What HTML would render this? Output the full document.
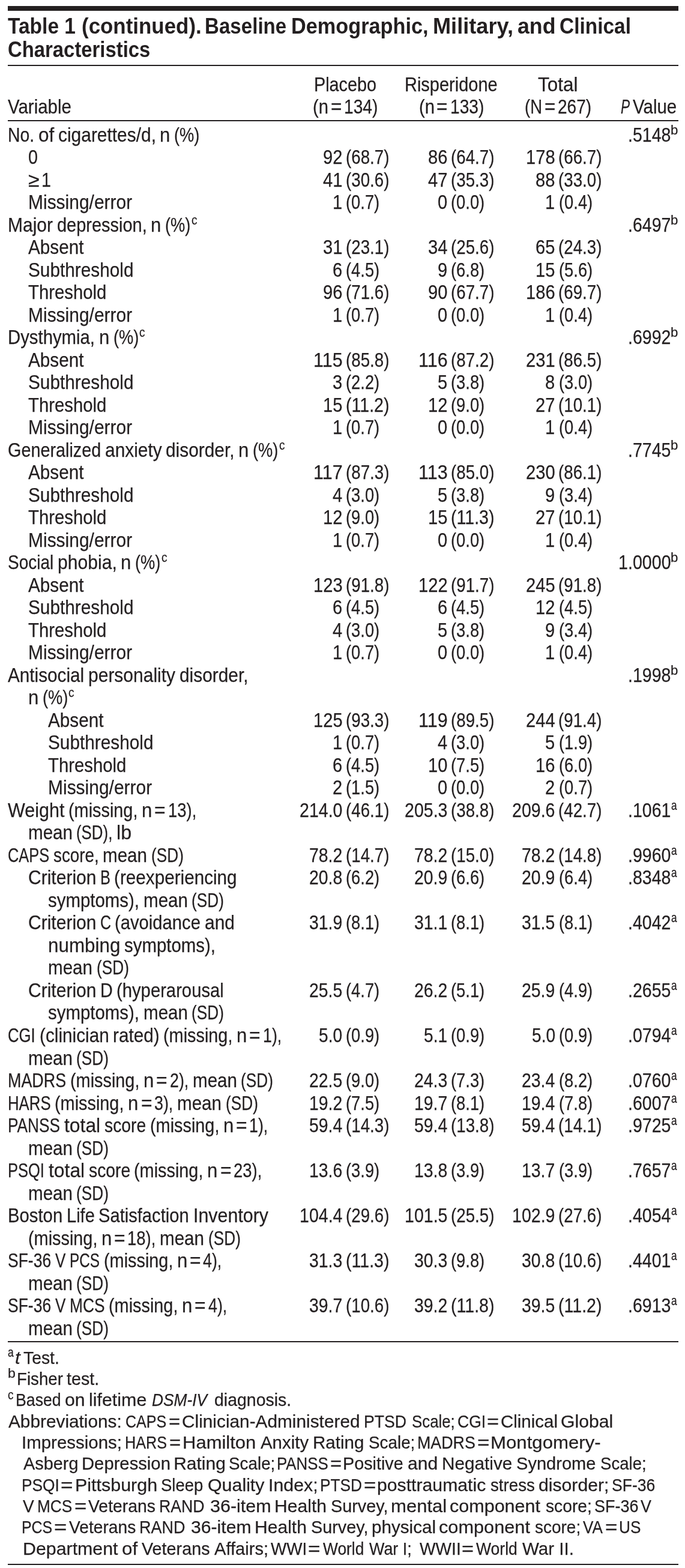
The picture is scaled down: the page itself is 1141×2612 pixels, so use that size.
<!DOCTYPE html><html lang="en"><head><meta charset="utf-8"><title>Table 1 (continued)</title><style>
html,body{margin:0;padding:0;background:#fff;}
#page{position:relative;width:1141px;height:2612px;overflow:hidden;background:#fff;color:#231f20;font-family:"Liberation Sans",sans-serif;}
#page span,#page sup,#page i,#page b{position:absolute;font-style:normal;font-weight:normal;vertical-align:baseline;white-space:pre;line-height:1;transform-origin:0 50%;-webkit-text-stroke:0.25px #231f20;}
#page b{font-weight:bold;-webkit-text-stroke:0;} #page i{font-style:italic;}
#page .rule{position:absolute;left:13.1px;width:1116.7px;background:#231f20;}
</style></head><body><div id="page"><div class="rule" style="top:9.9px;height:8.0px"></div><div class="rule" style="top:107.7px;height:2.2px"></div><div class="rule" style="top:200.3px;height:2.2px"></div><div class="rule" style="top:2233.9px;height:2.2px"></div><div class="rule" style="top:2604.9px;height:2.2px"></div><div><b style="left:12.82px;top:26px;font-size:36.5px;transform:scaleX(0.9182)">Table 1</b> <b style="left:135.56px;top:26px;font-size:36.5px;transform:scaleX(0.9565)">(continued).</b> <b style="left:341.38px;top:26px;font-size:36.5px;transform:scaleX(0.9075)">Baseline</b> <b style="left:485.41px;top:26px;font-size:36.5px;transform:scaleX(0.9392)">Demographic,</b> <b style="left:721.38px;top:26px;font-size:36.5px;transform:scaleX(0.9905)">Military,</b> <b style="left:861.65px;top:26px;font-size:36.5px;transform:scaleX(0.9783)">and</b> <b style="left:932.03px;top:26px;font-size:36.5px;transform:scaleX(0.9161)">Clinical</b> <b style="left:12.85px;top:65px;font-size:36.5px;transform:scaleX(0.9000)">Characteristics</b> </div><div><span style="left:12.87px;top:161px;font-size:33px;transform:scaleX(0.8929)">Variable</span> </div><div><span style="left:522.84px;top:124px;font-size:33px;transform:scaleX(0.8726)">Placebo</span> <span style="left:521.22px;top:161px;font-size:33px;transform:scaleX(0.8840)">(n</span> <span style="left:551.02px;top:161px;font-size:33px;transform:scaleX(0.9557)">=</span> <span style="left:573.32px;top:161px;font-size:33px;transform:scaleX(0.8532)">134)</span> </div><div><span style="left:674.42px;top:124px;font-size:33px;transform:scaleX(0.8782)">Risperidone</span> <span style="left:697.52px;top:161px;font-size:33px;transform:scaleX(0.8849)">(n</span> <span style="left:727.35px;top:161px;font-size:33px;transform:scaleX(0.9566)">=</span> <span style="left:749.66px;top:161px;font-size:33px;transform:scaleX(0.8540)">133)</span> </div><div><span style="left:896.29px;top:124px;font-size:33px;transform:scaleX(0.9525)">Total</span> <span style="left:873.72px;top:161px;font-size:33px;transform:scaleX(0.8341)">(N</span> <span style="left:906.63px;top:161px;font-size:33px;transform:scaleX(0.9533)">=</span> <span style="left:928.86px;top:161px;font-size:33px;transform:scaleX(0.8510)">267)</span> </div><div><i style="left:1033.50px;top:161px;font-size:33px;transform:scaleX(0.6878)">P</i> <span style="left:1053.87px;top:161px;font-size:33px;transform:scaleX(0.8937)">Value</span> </div><div><span style="left:13.20px;top:208px;font-size:33px;transform:scaleX(0.8590)">No.</span> <span style="left:63.93px;top:208px;font-size:33px;transform:scaleX(0.9531)">of</span> <span style="left:96.78px;top:208px;font-size:33px;transform:scaleX(0.9067)">cigarettes/d,</span> <span style="left:266.39px;top:208px;font-size:33px;transform:scaleX(0.9432)">n</span> <span style="left:290.32px;top:208px;font-size:33px;transform:scaleX(0.8267)">(%)</span> <span style="left:1046.40px;top:208px;font-size:33px;transform:scaleX(0.8657)">.5148</span><sup style="left:1117.47px;top:206px;font-size:22px;transform:scaleX(1.0093)">b</sup> </div><div><span style="left:46.60px;top:245px;font-size:33px;transform:scaleX(0.8718)">0</span> <span style="left:538.00px;top:245px;font-size:33px;transform:scaleX(0.8824)">92</span> <span style="left:576.28px;top:245px;font-size:33px;transform:scaleX(0.8402)">(68.7)</span> <span style="left:712.90px;top:245px;font-size:33px;transform:scaleX(0.8824)">86</span> <span style="left:751.18px;top:245px;font-size:33px;transform:scaleX(0.8402)">(64.7)</span> <span style="left:876.00px;top:245px;font-size:33px;transform:scaleX(0.8826)">178</span> <span style="left:930.48px;top:245px;font-size:33px;transform:scaleX(0.8402)">(66.7)</span> </div><div><span style="left:46.60px;top:283px;font-size:33px;transform:scaleX(1.0259)">≥</span> <span style="left:69.10px;top:283px;font-size:33px;transform:scaleX(0.8718)">1</span> <span style="left:538.00px;top:283px;font-size:33px;transform:scaleX(0.8824)">41</span> <span style="left:576.28px;top:283px;font-size:33px;transform:scaleX(0.8402)">(30.6)</span> <span style="left:712.90px;top:283px;font-size:33px;transform:scaleX(0.8824)">47</span> <span style="left:751.18px;top:283px;font-size:33px;transform:scaleX(0.8402)">(35.3)</span> <span style="left:892.20px;top:283px;font-size:33px;transform:scaleX(0.8824)">88</span> <span style="left:930.48px;top:283px;font-size:33px;transform:scaleX(0.8402)">(33.0)</span> </div><div><span style="left:46.60px;top:320px;font-size:33px;transform:scaleX(0.9083)">Missing/error</span> <span style="left:554.20px;top:320px;font-size:33px;transform:scaleX(0.8824)">1</span> <span style="left:576.31px;top:320px;font-size:33px;transform:scaleX(0.8280)">(0.7)</span> <span style="left:729.10px;top:320px;font-size:33px;transform:scaleX(0.8824)">0</span> <span style="left:751.21px;top:320px;font-size:33px;transform:scaleX(0.8280)">(0.0)</span> <span style="left:908.40px;top:320px;font-size:33px;transform:scaleX(0.8824)">1</span> <span style="left:930.51px;top:320px;font-size:33px;transform:scaleX(0.8280)">(0.4)</span> </div><div><span style="left:13.20px;top:358px;font-size:33px;transform:scaleX(0.9092)">Major</span> <span style="left:94.85px;top:358px;font-size:33px;transform:scaleX(0.8776)">depression,</span> <span style="left:251.19px;top:358px;font-size:33px;transform:scaleX(0.9432)">n</span> <span style="left:275.12px;top:358px;font-size:33px;transform:scaleX(0.8267)">(%)</span><sup style="left:318.65px;top:356px;font-size:22px;transform:scaleX(0.8645)">c</sup> <span style="left:1046.40px;top:358px;font-size:33px;transform:scaleX(0.8657)">.6497</span><sup style="left:1117.47px;top:356px;font-size:22px;transform:scaleX(1.0093)">b</sup> </div><div><span style="left:46.60px;top:395px;font-size:33px;transform:scaleX(0.9000)">Absent</span> <span style="left:538.00px;top:395px;font-size:33px;transform:scaleX(0.8824)">31</span> <span style="left:576.28px;top:395px;font-size:33px;transform:scaleX(0.8402)">(23.1)</span> <span style="left:712.90px;top:395px;font-size:33px;transform:scaleX(0.8824)">34</span> <span style="left:751.18px;top:395px;font-size:33px;transform:scaleX(0.8402)">(25.6)</span> <span style="left:892.20px;top:395px;font-size:33px;transform:scaleX(0.8824)">65</span> <span style="left:930.48px;top:395px;font-size:33px;transform:scaleX(0.8402)">(24.3)</span> </div><div><span style="left:46.60px;top:433px;font-size:33px;transform:scaleX(0.9027)">Subthreshold</span> <span style="left:554.20px;top:433px;font-size:33px;transform:scaleX(0.8824)">6</span> <span style="left:576.31px;top:433px;font-size:33px;transform:scaleX(0.8280)">(4.5)</span> <span style="left:729.10px;top:433px;font-size:33px;transform:scaleX(0.8824)">9</span> <span style="left:751.21px;top:433px;font-size:33px;transform:scaleX(0.8280)">(6.8)</span> <span style="left:892.20px;top:433px;font-size:33px;transform:scaleX(0.8824)">15</span> <span style="left:930.51px;top:433px;font-size:33px;transform:scaleX(0.8280)">(5.6)</span> </div><div><span style="left:46.60px;top:470px;font-size:33px;transform:scaleX(0.8887)">Threshold</span> <span style="left:538.00px;top:470px;font-size:33px;transform:scaleX(0.8824)">96</span> <span style="left:576.28px;top:470px;font-size:33px;transform:scaleX(0.8402)">(71.6)</span> <span style="left:712.90px;top:470px;font-size:33px;transform:scaleX(0.8824)">90</span> <span style="left:751.18px;top:470px;font-size:33px;transform:scaleX(0.8402)">(67.7)</span> <span style="left:876.00px;top:470px;font-size:33px;transform:scaleX(0.8826)">186</span> <span style="left:930.48px;top:470px;font-size:33px;transform:scaleX(0.8402)">(69.7)</span> </div><div><span style="left:46.60px;top:508px;font-size:33px;transform:scaleX(0.9083)">Missing/error</span> <span style="left:554.20px;top:508px;font-size:33px;transform:scaleX(0.8824)">1</span> <span style="left:576.31px;top:508px;font-size:33px;transform:scaleX(0.8280)">(0.7)</span> <span style="left:729.10px;top:508px;font-size:33px;transform:scaleX(0.8824)">0</span> <span style="left:751.21px;top:508px;font-size:33px;transform:scaleX(0.8280)">(0.0)</span> <span style="left:908.40px;top:508px;font-size:33px;transform:scaleX(0.8824)">1</span> <span style="left:930.51px;top:508px;font-size:33px;transform:scaleX(0.8280)">(0.4)</span> </div><div><span style="left:13.20px;top:545px;font-size:33px;transform:scaleX(0.8884)">Dysthymia,</span> <span style="left:164.80px;top:545px;font-size:33px;transform:scaleX(0.9432)">n</span> <span style="left:188.73px;top:545px;font-size:33px;transform:scaleX(0.8267)">(%)</span><sup style="left:232.26px;top:543px;font-size:22px;transform:scaleX(0.8645)">c</sup> <span style="left:1046.40px;top:545px;font-size:33px;transform:scaleX(0.8657)">.6992</span><sup style="left:1117.47px;top:543px;font-size:22px;transform:scaleX(1.0093)">b</sup> </div><div><span style="left:46.60px;top:583px;font-size:33px;transform:scaleX(0.9000)">Absent</span> <span style="left:521.80px;top:583px;font-size:33px;transform:scaleX(0.9235)">115</span> <span style="left:576.28px;top:583px;font-size:33px;transform:scaleX(0.8402)">(85.8)</span> <span style="left:696.70px;top:583px;font-size:33px;transform:scaleX(0.9235)">116</span> <span style="left:751.18px;top:583px;font-size:33px;transform:scaleX(0.8402)">(87.2)</span> <span style="left:876.00px;top:583px;font-size:33px;transform:scaleX(0.8826)">231</span> <span style="left:930.48px;top:583px;font-size:33px;transform:scaleX(0.8402)">(86.5)</span> </div><div><span style="left:46.60px;top:620px;font-size:33px;transform:scaleX(0.9027)">Subthreshold</span> <span style="left:554.20px;top:620px;font-size:33px;transform:scaleX(0.8824)">3</span> <span style="left:576.31px;top:620px;font-size:33px;transform:scaleX(0.8280)">(2.2)</span> <span style="left:729.10px;top:620px;font-size:33px;transform:scaleX(0.8824)">5</span> <span style="left:751.21px;top:620px;font-size:33px;transform:scaleX(0.8280)">(3.8)</span> <span style="left:908.40px;top:620px;font-size:33px;transform:scaleX(0.8824)">8</span> <span style="left:930.51px;top:620px;font-size:33px;transform:scaleX(0.8280)">(3.0)</span> </div><div><span style="left:46.60px;top:658px;font-size:33px;transform:scaleX(0.8887)">Threshold</span> <span style="left:538.00px;top:658px;font-size:33px;transform:scaleX(0.8824)">15</span> <span style="left:576.23px;top:658px;font-size:33px;transform:scaleX(0.8660)">(11.2)</span> <span style="left:712.90px;top:658px;font-size:33px;transform:scaleX(0.8824)">12</span> <span style="left:751.21px;top:658px;font-size:33px;transform:scaleX(0.8280)">(9.0)</span> <span style="left:892.20px;top:658px;font-size:33px;transform:scaleX(0.8824)">27</span> <span style="left:930.48px;top:658px;font-size:33px;transform:scaleX(0.8402)">(10.1)</span> </div><div><span style="left:46.60px;top:695px;font-size:33px;transform:scaleX(0.9083)">Missing/error</span> <span style="left:554.20px;top:695px;font-size:33px;transform:scaleX(0.8824)">1</span> <span style="left:576.31px;top:695px;font-size:33px;transform:scaleX(0.8280)">(0.7)</span> <span style="left:729.10px;top:695px;font-size:33px;transform:scaleX(0.8824)">0</span> <span style="left:751.21px;top:695px;font-size:33px;transform:scaleX(0.8280)">(0.0)</span> <span style="left:908.40px;top:695px;font-size:33px;transform:scaleX(0.8824)">1</span> <span style="left:930.51px;top:695px;font-size:33px;transform:scaleX(0.8280)">(0.4)</span> </div><div><span style="left:13.20px;top:733px;font-size:33px;transform:scaleX(0.8723)">Generalized</span> <span style="left:175.03px;top:733px;font-size:33px;transform:scaleX(0.9062)">anxiety</span> <span style="left:276.40px;top:733px;font-size:33px;transform:scaleX(0.9044)">disorder,</span> <span style="left:397.49px;top:733px;font-size:33px;transform:scaleX(0.9432)">n</span> <span style="left:421.42px;top:733px;font-size:33px;transform:scaleX(0.8267)">(%)</span><sup style="left:464.94px;top:731px;font-size:22px;transform:scaleX(0.8645)">c</sup> <span style="left:1046.40px;top:733px;font-size:33px;transform:scaleX(0.8657)">.7745</span><sup style="left:1117.47px;top:731px;font-size:22px;transform:scaleX(1.0093)">b</sup> </div><div><span style="left:46.60px;top:770px;font-size:33px;transform:scaleX(0.9000)">Absent</span> <span style="left:521.80px;top:770px;font-size:33px;transform:scaleX(0.9235)">117</span> <span style="left:576.28px;top:770px;font-size:33px;transform:scaleX(0.8402)">(87.3)</span> <span style="left:696.70px;top:770px;font-size:33px;transform:scaleX(0.9235)">113</span> <span style="left:751.18px;top:770px;font-size:33px;transform:scaleX(0.8402)">(85.0)</span> <span style="left:876.00px;top:770px;font-size:33px;transform:scaleX(0.8826)">230</span> <span style="left:930.48px;top:770px;font-size:33px;transform:scaleX(0.8402)">(86.1)</span> </div><div><span style="left:46.60px;top:808px;font-size:33px;transform:scaleX(0.9027)">Subthreshold</span> <span style="left:554.20px;top:808px;font-size:33px;transform:scaleX(0.8824)">4</span> <span style="left:576.31px;top:808px;font-size:33px;transform:scaleX(0.8280)">(3.0)</span> <span style="left:729.10px;top:808px;font-size:33px;transform:scaleX(0.8824)">5</span> <span style="left:751.21px;top:808px;font-size:33px;transform:scaleX(0.8280)">(3.8)</span> <span style="left:908.40px;top:808px;font-size:33px;transform:scaleX(0.8824)">9</span> <span style="left:930.51px;top:808px;font-size:33px;transform:scaleX(0.8280)">(3.4)</span> </div><div><span style="left:46.60px;top:845px;font-size:33px;transform:scaleX(0.8887)">Threshold</span> <span style="left:538.00px;top:845px;font-size:33px;transform:scaleX(0.8824)">12</span> <span style="left:576.31px;top:845px;font-size:33px;transform:scaleX(0.8280)">(9.0)</span> <span style="left:712.90px;top:845px;font-size:33px;transform:scaleX(0.8824)">15</span> <span style="left:751.13px;top:845px;font-size:33px;transform:scaleX(0.8660)">(11.3)</span> <span style="left:892.20px;top:845px;font-size:33px;transform:scaleX(0.8824)">27</span> <span style="left:930.48px;top:845px;font-size:33px;transform:scaleX(0.8402)">(10.1)</span> </div><div><span style="left:46.60px;top:883px;font-size:33px;transform:scaleX(0.9083)">Missing/error</span> <span style="left:554.20px;top:883px;font-size:33px;transform:scaleX(0.8824)">1</span> <span style="left:576.31px;top:883px;font-size:33px;transform:scaleX(0.8280)">(0.7)</span> <span style="left:729.10px;top:883px;font-size:33px;transform:scaleX(0.8824)">0</span> <span style="left:751.21px;top:883px;font-size:33px;transform:scaleX(0.8280)">(0.0)</span> <span style="left:908.40px;top:883px;font-size:33px;transform:scaleX(0.8824)">1</span> <span style="left:930.51px;top:883px;font-size:33px;transform:scaleX(0.8280)">(0.4)</span> </div><div><span style="left:13.20px;top:920px;font-size:33px;transform:scaleX(0.8476)">Social</span> <span style="left:96.00px;top:920px;font-size:33px;transform:scaleX(0.9121)">phobia,</span> <span style="left:201.37px;top:920px;font-size:33px;transform:scaleX(0.9432)">n</span> <span style="left:225.30px;top:920px;font-size:33px;transform:scaleX(0.8267)">(%)</span><sup style="left:268.82px;top:918px;font-size:22px;transform:scaleX(0.8645)">c</sup> <span style="left:1030.20px;top:920px;font-size:33px;transform:scaleX(0.8689)">1.0000</span><sup style="left:1117.47px;top:918px;font-size:22px;transform:scaleX(1.0093)">b</sup> </div><div><span style="left:46.60px;top:958px;font-size:33px;transform:scaleX(0.9000)">Absent</span> <span style="left:521.80px;top:958px;font-size:33px;transform:scaleX(0.8826)">123</span> <span style="left:576.28px;top:958px;font-size:33px;transform:scaleX(0.8402)">(91.8)</span> <span style="left:696.70px;top:958px;font-size:33px;transform:scaleX(0.8826)">122</span> <span style="left:751.18px;top:958px;font-size:33px;transform:scaleX(0.8402)">(91.7)</span> <span style="left:876.00px;top:958px;font-size:33px;transform:scaleX(0.8826)">245</span> <span style="left:930.48px;top:958px;font-size:33px;transform:scaleX(0.8402)">(91.8)</span> </div><div><span style="left:46.60px;top:995px;font-size:33px;transform:scaleX(0.9027)">Subthreshold</span> <span style="left:554.20px;top:995px;font-size:33px;transform:scaleX(0.8824)">6</span> <span style="left:576.31px;top:995px;font-size:33px;transform:scaleX(0.8280)">(4.5)</span> <span style="left:729.10px;top:995px;font-size:33px;transform:scaleX(0.8824)">6</span> <span style="left:751.21px;top:995px;font-size:33px;transform:scaleX(0.8280)">(4.5)</span> <span style="left:892.20px;top:995px;font-size:33px;transform:scaleX(0.8824)">12</span> <span style="left:930.51px;top:995px;font-size:33px;transform:scaleX(0.8280)">(4.5)</span> </div><div><span style="left:46.60px;top:1033px;font-size:33px;transform:scaleX(0.8887)">Threshold</span> <span style="left:554.20px;top:1033px;font-size:33px;transform:scaleX(0.8824)">4</span> <span style="left:576.31px;top:1033px;font-size:33px;transform:scaleX(0.8280)">(3.0)</span> <span style="left:729.10px;top:1033px;font-size:33px;transform:scaleX(0.8824)">5</span> <span style="left:751.21px;top:1033px;font-size:33px;transform:scaleX(0.8280)">(3.8)</span> <span style="left:908.40px;top:1033px;font-size:33px;transform:scaleX(0.8824)">9</span> <span style="left:930.51px;top:1033px;font-size:33px;transform:scaleX(0.8280)">(3.4)</span> </div><div><span style="left:46.60px;top:1070px;font-size:33px;transform:scaleX(0.9083)">Missing/error</span> <span style="left:554.20px;top:1070px;font-size:33px;transform:scaleX(0.8824)">1</span> <span style="left:576.31px;top:1070px;font-size:33px;transform:scaleX(0.8280)">(0.7)</span> <span style="left:729.10px;top:1070px;font-size:33px;transform:scaleX(0.8824)">0</span> <span style="left:751.21px;top:1070px;font-size:33px;transform:scaleX(0.8280)">(0.0)</span> <span style="left:908.40px;top:1070px;font-size:33px;transform:scaleX(0.8824)">1</span> <span style="left:930.51px;top:1070px;font-size:33px;transform:scaleX(0.8280)">(0.4)</span> </div><div><span style="left:13.20px;top:1108px;font-size:33px;transform:scaleX(0.9006)">Antisocial</span> <span style="left:147.02px;top:1108px;font-size:33px;transform:scaleX(0.9093)">personality</span> <span style="left:298.74px;top:1108px;font-size:33px;transform:scaleX(0.9044)">disorder,</span> </div><div><span style="left:46.60px;top:1145px;font-size:33px;transform:scaleX(0.9432)">n</span> <span style="left:70.53px;top:1145px;font-size:33px;transform:scaleX(0.8267)">(%)</span><sup style="left:114.05px;top:1143px;font-size:22px;transform:scaleX(0.8645)">c</sup> </div><div><span style="left:1046.40px;top:1108px;font-size:33px;transform:scaleX(0.8657)">.1998</span><sup style="left:1117.47px;top:1106px;font-size:22px;transform:scaleX(1.0093)">b</sup> </div><div><span style="left:80.00px;top:1183px;font-size:33px;transform:scaleX(0.9000)">Absent</span> <span style="left:521.80px;top:1183px;font-size:33px;transform:scaleX(0.8826)">125</span> <span style="left:576.28px;top:1183px;font-size:33px;transform:scaleX(0.8402)">(93.3)</span> <span style="left:696.70px;top:1183px;font-size:33px;transform:scaleX(0.9235)">119</span> <span style="left:751.18px;top:1183px;font-size:33px;transform:scaleX(0.8402)">(89.5)</span> <span style="left:876.00px;top:1183px;font-size:33px;transform:scaleX(0.8826)">244</span> <span style="left:930.48px;top:1183px;font-size:33px;transform:scaleX(0.8402)">(91.4)</span> </div><div><span style="left:80.00px;top:1220px;font-size:33px;transform:scaleX(0.9027)">Subthreshold</span> <span style="left:554.20px;top:1220px;font-size:33px;transform:scaleX(0.8824)">1</span> <span style="left:576.31px;top:1220px;font-size:33px;transform:scaleX(0.8280)">(0.7)</span> <span style="left:729.10px;top:1220px;font-size:33px;transform:scaleX(0.8824)">4</span> <span style="left:751.21px;top:1220px;font-size:33px;transform:scaleX(0.8280)">(3.0)</span> <span style="left:908.40px;top:1220px;font-size:33px;transform:scaleX(0.8824)">5</span> <span style="left:930.51px;top:1220px;font-size:33px;transform:scaleX(0.8280)">(1.9)</span> </div><div><span style="left:80.00px;top:1258px;font-size:33px;transform:scaleX(0.8887)">Threshold</span> <span style="left:554.20px;top:1258px;font-size:33px;transform:scaleX(0.8824)">6</span> <span style="left:576.31px;top:1258px;font-size:33px;transform:scaleX(0.8280)">(4.5)</span> <span style="left:712.90px;top:1258px;font-size:33px;transform:scaleX(0.8824)">10</span> <span style="left:751.21px;top:1258px;font-size:33px;transform:scaleX(0.8280)">(7.5)</span> <span style="left:892.20px;top:1258px;font-size:33px;transform:scaleX(0.8824)">16</span> <span style="left:930.51px;top:1258px;font-size:33px;transform:scaleX(0.8280)">(6.0)</span> </div><div><span style="left:80.00px;top:1295px;font-size:33px;transform:scaleX(0.9083)">Missing/error</span> <span style="left:554.20px;top:1295px;font-size:33px;transform:scaleX(0.8824)">2</span> <span style="left:576.31px;top:1295px;font-size:33px;transform:scaleX(0.8280)">(1.5)</span> <span style="left:729.10px;top:1295px;font-size:33px;transform:scaleX(0.8824)">0</span> <span style="left:751.21px;top:1295px;font-size:33px;transform:scaleX(0.8280)">(0.0)</span> <span style="left:908.40px;top:1295px;font-size:33px;transform:scaleX(0.8824)">2</span> <span style="left:930.51px;top:1295px;font-size:33px;transform:scaleX(0.8280)">(0.7)</span> </div><div><span style="left:13.20px;top:1333px;font-size:33px;transform:scaleX(0.9245)">Weight</span> <span style="left:114.23px;top:1333px;font-size:33px;transform:scaleX(0.8741)">(missing,</span> <span style="left:236.25px;top:1333px;font-size:33px;transform:scaleX(0.9432)">n</span> <span style="left:257.46px;top:1333px;font-size:33px;transform:scaleX(0.9644)">=</span> <span style="left:279.96px;top:1333px;font-size:33px;transform:scaleX(0.8322)">13),</span> <span style="left:46.60px;top:1370px;font-size:33px;transform:scaleX(0.8964)">mean</span> <span style="left:127.22px;top:1370px;font-size:33px;transform:scaleX(0.7836)">(SD),</span> <span style="left:194.18px;top:1370px;font-size:33px;transform:scaleX(0.9778)">lb</span> <span style="left:498.90px;top:1333px;font-size:33px;transform:scaleX(0.8657)">214.0</span> <span style="left:576.28px;top:1333px;font-size:33px;transform:scaleX(0.8402)">(46.1)</span> <span style="left:673.80px;top:1333px;font-size:33px;transform:scaleX(0.8657)">205.3</span> <span style="left:751.18px;top:1333px;font-size:33px;transform:scaleX(0.8402)">(38.8)</span> <span style="left:853.10px;top:1333px;font-size:33px;transform:scaleX(0.8657)">209.6</span> <span style="left:930.48px;top:1333px;font-size:33px;transform:scaleX(0.8402)">(42.7)</span> <span style="left:1046.40px;top:1333px;font-size:33px;transform:scaleX(0.8657)">.1061</span><sup style="left:1118.17px;top:1331px;font-size:22px;transform:scaleX(0.7777)">a</sup> </div><div><span style="left:13.20px;top:1408px;font-size:33px;transform:scaleX(0.7696)">CAPS</span> <span style="left:88.98px;top:1408px;font-size:33px;transform:scaleX(0.8429)">score,</span> <span style="left:171.35px;top:1408px;font-size:33px;transform:scaleX(0.8964)">mean</span> <span style="left:251.97px;top:1408px;font-size:33px;transform:scaleX(0.7944)">(SD)</span> <span style="left:515.10px;top:1408px;font-size:33px;transform:scaleX(0.8609)">78.2</span> <span style="left:576.28px;top:1408px;font-size:33px;transform:scaleX(0.8402)">(14.7)</span> <span style="left:690.00px;top:1408px;font-size:33px;transform:scaleX(0.8609)">78.2</span> <span style="left:751.18px;top:1408px;font-size:33px;transform:scaleX(0.8402)">(15.0)</span> <span style="left:869.30px;top:1408px;font-size:33px;transform:scaleX(0.8609)">78.2</span> <span style="left:930.48px;top:1408px;font-size:33px;transform:scaleX(0.8402)">(14.8)</span> <span style="left:1046.40px;top:1408px;font-size:33px;transform:scaleX(0.8657)">.9960</span><sup style="left:1118.17px;top:1406px;font-size:22px;transform:scaleX(0.7777)">a</sup> </div><div><span style="left:46.60px;top:1445px;font-size:33px;transform:scaleX(0.9102)">Criterion</span> <span style="left:166.72px;top:1445px;font-size:33px;transform:scaleX(0.7681)">B</span> <span style="left:190.24px;top:1445px;font-size:33px;transform:scaleX(0.8996)">(reexperiencing</span> <span style="left:80.00px;top:1483px;font-size:33px;transform:scaleX(0.8913)">symptoms),</span> <span style="left:238.59px;top:1483px;font-size:33px;transform:scaleX(0.8964)">mean</span> <span style="left:319.21px;top:1483px;font-size:33px;transform:scaleX(0.7944)">(SD)</span> <span style="left:515.10px;top:1445px;font-size:33px;transform:scaleX(0.8609)">20.8</span> <span style="left:576.31px;top:1445px;font-size:33px;transform:scaleX(0.8280)">(6.2)</span> <span style="left:690.00px;top:1445px;font-size:33px;transform:scaleX(0.8609)">20.9</span> <span style="left:751.21px;top:1445px;font-size:33px;transform:scaleX(0.8280)">(6.6)</span> <span style="left:869.30px;top:1445px;font-size:33px;transform:scaleX(0.8609)">20.9</span> <span style="left:930.51px;top:1445px;font-size:33px;transform:scaleX(0.8280)">(6.4)</span> <span style="left:1046.40px;top:1445px;font-size:33px;transform:scaleX(0.8657)">.8348</span><sup style="left:1118.17px;top:1443px;font-size:22px;transform:scaleX(0.7777)">a</sup> </div><div><span style="left:46.60px;top:1520px;font-size:33px;transform:scaleX(0.9102)">Criterion</span> <span style="left:166.72px;top:1520px;font-size:33px;transform:scaleX(0.7589)">C</span> <span style="left:191.43px;top:1520px;font-size:33px;transform:scaleX(0.8851)">(avoidance</span> <span style="left:340.94px;top:1520px;font-size:33px;transform:scaleX(0.9072)">and</span> <span style="left:80.00px;top:1558px;font-size:33px;transform:scaleX(0.9506)">numbing</span> <span style="left:206.95px;top:1558px;font-size:33px;transform:scaleX(0.8913)">symptoms),</span> <span style="left:80.00px;top:1595px;font-size:33px;transform:scaleX(0.8964)">mean</span> <span style="left:160.62px;top:1595px;font-size:33px;transform:scaleX(0.7944)">(SD)</span> <span style="left:515.10px;top:1520px;font-size:33px;transform:scaleX(0.8609)">31.9</span> <span style="left:576.31px;top:1520px;font-size:33px;transform:scaleX(0.8280)">(8.1)</span> <span style="left:690.00px;top:1520px;font-size:33px;transform:scaleX(0.8609)">31.1</span> <span style="left:751.21px;top:1520px;font-size:33px;transform:scaleX(0.8280)">(8.1)</span> <span style="left:869.30px;top:1520px;font-size:33px;transform:scaleX(0.8609)">31.5</span> <span style="left:930.51px;top:1520px;font-size:33px;transform:scaleX(0.8280)">(8.1)</span> <span style="left:1046.40px;top:1520px;font-size:33px;transform:scaleX(0.8657)">.4042</span><sup style="left:1118.17px;top:1518px;font-size:22px;transform:scaleX(0.7777)">a</sup> </div><div><span style="left:46.60px;top:1633px;font-size:33px;transform:scaleX(0.9102)">Criterion</span> <span style="left:166.72px;top:1633px;font-size:33px;transform:scaleX(0.8715)">D</span> <span style="left:194.11px;top:1633px;font-size:33px;transform:scaleX(0.8860)">(hyperarousal</span> <span style="left:80.00px;top:1670px;font-size:33px;transform:scaleX(0.8913)">symptoms),</span> <span style="left:238.59px;top:1670px;font-size:33px;transform:scaleX(0.8964)">mean</span> <span style="left:319.21px;top:1670px;font-size:33px;transform:scaleX(0.7944)">(SD)</span> <span style="left:515.10px;top:1633px;font-size:33px;transform:scaleX(0.8609)">25.5</span> <span style="left:576.31px;top:1633px;font-size:33px;transform:scaleX(0.8280)">(4.7)</span> <span style="left:690.00px;top:1633px;font-size:33px;transform:scaleX(0.8609)">26.2</span> <span style="left:751.21px;top:1633px;font-size:33px;transform:scaleX(0.8280)">(5.1)</span> <span style="left:869.30px;top:1633px;font-size:33px;transform:scaleX(0.8609)">25.9</span> <span style="left:930.51px;top:1633px;font-size:33px;transform:scaleX(0.8280)">(4.9)</span> <span style="left:1046.40px;top:1633px;font-size:33px;transform:scaleX(0.8657)">.2655</span><sup style="left:1118.17px;top:1631px;font-size:22px;transform:scaleX(0.7777)">a</sup> </div><div><span style="left:13.20px;top:1708px;font-size:33px;transform:scaleX(0.7790)">CGI</span> <span style="left:65.52px;top:1708px;font-size:33px;transform:scaleX(0.9017)">(clinician</span> <span style="left:187.89px;top:1708px;font-size:33px;transform:scaleX(0.9007)">rated)</span> <span style="left:272.16px;top:1708px;font-size:33px;transform:scaleX(0.8741)">(missing,</span> <span style="left:394.18px;top:1708px;font-size:33px;transform:scaleX(0.9432)">n</span> <span style="left:415.40px;top:1708px;font-size:33px;transform:scaleX(0.9644)">=</span> <span style="left:437.89px;top:1708px;font-size:33px;transform:scaleX(0.8133)">1),</span> <span style="left:46.60px;top:1746px;font-size:33px;transform:scaleX(0.8964)">mean</span> <span style="left:127.22px;top:1746px;font-size:33px;transform:scaleX(0.7944)">(SD)</span> <span style="left:531.30px;top:1708px;font-size:33px;transform:scaleX(0.8523)">5.0</span> <span style="left:576.31px;top:1708px;font-size:33px;transform:scaleX(0.8280)">(0.9)</span> <span style="left:706.20px;top:1708px;font-size:33px;transform:scaleX(0.8523)">5.1</span> <span style="left:751.21px;top:1708px;font-size:33px;transform:scaleX(0.8280)">(0.9)</span> <span style="left:885.50px;top:1708px;font-size:33px;transform:scaleX(0.8523)">5.0</span> <span style="left:930.51px;top:1708px;font-size:33px;transform:scaleX(0.8280)">(0.9)</span> <span style="left:1046.40px;top:1708px;font-size:33px;transform:scaleX(0.8657)">.0794</span><sup style="left:1118.17px;top:1706px;font-size:22px;transform:scaleX(0.7777)">a</sup> </div><div><span style="left:13.20px;top:1783px;font-size:33px;transform:scaleX(0.8149)">MADRS</span> <span style="left:116.94px;top:1783px;font-size:33px;transform:scaleX(0.8741)">(missing,</span> <span style="left:238.96px;top:1783px;font-size:33px;transform:scaleX(0.9432)">n</span> <span style="left:260.18px;top:1783px;font-size:33px;transform:scaleX(0.9644)">=</span> <span style="left:282.67px;top:1783px;font-size:33px;transform:scaleX(0.8133)">2),</span> <span style="left:320.61px;top:1783px;font-size:33px;transform:scaleX(0.8964)">mean</span> <span style="left:401.23px;top:1783px;font-size:33px;transform:scaleX(0.7944)">(SD)</span> <span style="left:515.10px;top:1783px;font-size:33px;transform:scaleX(0.8609)">22.5</span> <span style="left:576.31px;top:1783px;font-size:33px;transform:scaleX(0.8280)">(9.0)</span> <span style="left:690.00px;top:1783px;font-size:33px;transform:scaleX(0.8609)">24.3</span> <span style="left:751.21px;top:1783px;font-size:33px;transform:scaleX(0.8280)">(7.3)</span> <span style="left:869.30px;top:1783px;font-size:33px;transform:scaleX(0.8609)">23.4</span> <span style="left:930.51px;top:1783px;font-size:33px;transform:scaleX(0.8280)">(8.2)</span> <span style="left:1046.40px;top:1783px;font-size:33px;transform:scaleX(0.8657)">.0760</span><sup style="left:1118.17px;top:1781px;font-size:22px;transform:scaleX(0.7777)">a</sup> </div><div><span style="left:13.20px;top:1821px;font-size:33px;transform:scaleX(0.7810)">HARS</span> <span style="left:91.42px;top:1821px;font-size:33px;transform:scaleX(0.8741)">(missing,</span> <span style="left:213.44px;top:1821px;font-size:33px;transform:scaleX(0.9432)">n</span> <span style="left:234.66px;top:1821px;font-size:33px;transform:scaleX(0.9644)">=</span> <span style="left:257.15px;top:1821px;font-size:33px;transform:scaleX(0.8133)">3),</span> <span style="left:295.09px;top:1821px;font-size:33px;transform:scaleX(0.8964)">mean</span> <span style="left:375.71px;top:1821px;font-size:33px;transform:scaleX(0.7944)">(SD)</span> <span style="left:515.10px;top:1821px;font-size:33px;transform:scaleX(0.8609)">19.2</span> <span style="left:576.31px;top:1821px;font-size:33px;transform:scaleX(0.8280)">(7.5)</span> <span style="left:690.00px;top:1821px;font-size:33px;transform:scaleX(0.8609)">19.7</span> <span style="left:751.21px;top:1821px;font-size:33px;transform:scaleX(0.8280)">(8.1)</span> <span style="left:869.30px;top:1821px;font-size:33px;transform:scaleX(0.8609)">19.4</span> <span style="left:930.51px;top:1821px;font-size:33px;transform:scaleX(0.8280)">(7.8)</span> <span style="left:1046.40px;top:1821px;font-size:33px;transform:scaleX(0.8657)">.6007</span><sup style="left:1118.17px;top:1819px;font-size:22px;transform:scaleX(0.7777)">a</sup> </div><div><span style="left:13.20px;top:1858px;font-size:33px;transform:scaleX(0.7948)">PANSS</span> <span style="left:106.80px;top:1858px;font-size:33px;transform:scaleX(0.9649)">total</span> <span style="left:173.60px;top:1858px;font-size:33px;transform:scaleX(0.8586)">score</span> <span style="left:249.51px;top:1858px;font-size:33px;transform:scaleX(0.8741)">(missing,</span> <span style="left:371.53px;top:1858px;font-size:33px;transform:scaleX(0.9432)">n</span> <span style="left:392.75px;top:1858px;font-size:33px;transform:scaleX(0.9644)">=</span> <span style="left:415.24px;top:1858px;font-size:33px;transform:scaleX(0.8133)">1),</span> <span style="left:46.60px;top:1896px;font-size:33px;transform:scaleX(0.8964)">mean</span> <span style="left:127.22px;top:1896px;font-size:33px;transform:scaleX(0.7944)">(SD)</span> <span style="left:515.10px;top:1858px;font-size:33px;transform:scaleX(0.8609)">59.4</span> <span style="left:576.28px;top:1858px;font-size:33px;transform:scaleX(0.8402)">(14.3)</span> <span style="left:690.00px;top:1858px;font-size:33px;transform:scaleX(0.8609)">59.4</span> <span style="left:751.18px;top:1858px;font-size:33px;transform:scaleX(0.8402)">(13.8)</span> <span style="left:869.30px;top:1858px;font-size:33px;transform:scaleX(0.8609)">59.4</span> <span style="left:930.48px;top:1858px;font-size:33px;transform:scaleX(0.8402)">(14.1)</span> <span style="left:1046.40px;top:1858px;font-size:33px;transform:scaleX(0.8657)">.9725</span><sup style="left:1118.17px;top:1856px;font-size:22px;transform:scaleX(0.7777)">a</sup> </div><div><span style="left:13.20px;top:1933px;font-size:33px;transform:scaleX(0.7727)">PSQI</span> <span style="left:80.75px;top:1933px;font-size:33px;transform:scaleX(0.9649)">total</span> <span style="left:147.55px;top:1933px;font-size:33px;transform:scaleX(0.8586)">score</span> <span style="left:223.46px;top:1933px;font-size:33px;transform:scaleX(0.8741)">(missing,</span> <span style="left:345.48px;top:1933px;font-size:33px;transform:scaleX(0.9432)">n</span> <span style="left:366.70px;top:1933px;font-size:33px;transform:scaleX(0.9644)">=</span> <span style="left:389.19px;top:1933px;font-size:33px;transform:scaleX(0.8322)">23),</span> <span style="left:46.60px;top:1971px;font-size:33px;transform:scaleX(0.8964)">mean</span> <span style="left:127.22px;top:1971px;font-size:33px;transform:scaleX(0.7944)">(SD)</span> <span style="left:515.10px;top:1933px;font-size:33px;transform:scaleX(0.8609)">13.6</span> <span style="left:576.31px;top:1933px;font-size:33px;transform:scaleX(0.8280)">(3.9)</span> <span style="left:690.00px;top:1933px;font-size:33px;transform:scaleX(0.8609)">13.8</span> <span style="left:751.21px;top:1933px;font-size:33px;transform:scaleX(0.8280)">(3.9)</span> <span style="left:869.30px;top:1933px;font-size:33px;transform:scaleX(0.8609)">13.7</span> <span style="left:930.51px;top:1933px;font-size:33px;transform:scaleX(0.8280)">(3.9)</span> <span style="left:1046.40px;top:1933px;font-size:33px;transform:scaleX(0.8657)">.7657</span><sup style="left:1118.17px;top:1931px;font-size:22px;transform:scaleX(0.7777)">a</sup> </div><div><span style="left:13.20px;top:2008px;font-size:33px;transform:scaleX(0.8873)">Boston</span> <span style="left:110.98px;top:2008px;font-size:33px;transform:scaleX(0.8788)">Life</span> <span style="left:164.36px;top:2008px;font-size:33px;transform:scaleX(0.8828)">Satisfaction</span> <span style="left:321.58px;top:2008px;font-size:33px;transform:scaleX(0.9214)">Inventory</span> <span style="left:46.60px;top:2046px;font-size:33px;transform:scaleX(0.8741)">(missing,</span> <span style="left:168.62px;top:2046px;font-size:33px;transform:scaleX(0.9432)">n</span> <span style="left:189.84px;top:2046px;font-size:33px;transform:scaleX(0.9644)">=</span> <span style="left:212.33px;top:2046px;font-size:33px;transform:scaleX(0.8322)">18),</span> <span style="left:266.28px;top:2046px;font-size:33px;transform:scaleX(0.8964)">mean</span> <span style="left:346.90px;top:2046px;font-size:33px;transform:scaleX(0.7944)">(SD)</span> <span style="left:498.90px;top:2008px;font-size:33px;transform:scaleX(0.8657)">104.4</span> <span style="left:576.28px;top:2008px;font-size:33px;transform:scaleX(0.8402)">(29.6)</span> <span style="left:673.80px;top:2008px;font-size:33px;transform:scaleX(0.8657)">101.5</span> <span style="left:751.18px;top:2008px;font-size:33px;transform:scaleX(0.8402)">(25.5)</span> <span style="left:853.10px;top:2008px;font-size:33px;transform:scaleX(0.8657)">102.9</span> <span style="left:930.48px;top:2008px;font-size:33px;transform:scaleX(0.8402)">(27.6)</span> <span style="left:1046.40px;top:2008px;font-size:33px;transform:scaleX(0.8657)">.4054</span><sup style="left:1118.17px;top:2006px;font-size:22px;transform:scaleX(0.7777)">a</sup> </div><div><span style="left:13.20px;top:2083px;font-size:33px;transform:scaleX(0.8030)">SF-36</span> <span style="left:91.98px;top:2083px;font-size:33px;transform:scaleX(0.7908)">V</span> <span style="left:116.00px;top:2083px;font-size:33px;transform:scaleX(0.7379)">PCS</span> <span style="left:172.69px;top:2083px;font-size:33px;transform:scaleX(0.8741)">(missing,</span> <span style="left:294.72px;top:2083px;font-size:33px;transform:scaleX(0.9432)">n</span> <span style="left:315.93px;top:2083px;font-size:33px;transform:scaleX(0.9644)">=</span> <span style="left:338.43px;top:2083px;font-size:33px;transform:scaleX(0.8133)">4),</span> <span style="left:46.60px;top:2121px;font-size:33px;transform:scaleX(0.8964)">mean</span> <span style="left:127.22px;top:2121px;font-size:33px;transform:scaleX(0.7944)">(SD)</span> <span style="left:515.10px;top:2083px;font-size:33px;transform:scaleX(0.8609)">31.3</span> <span style="left:576.23px;top:2083px;font-size:33px;transform:scaleX(0.8660)">(11.3)</span> <span style="left:690.00px;top:2083px;font-size:33px;transform:scaleX(0.8609)">30.3</span> <span style="left:751.21px;top:2083px;font-size:33px;transform:scaleX(0.8280)">(9.8)</span> <span style="left:869.30px;top:2083px;font-size:33px;transform:scaleX(0.8609)">30.8</span> <span style="left:930.48px;top:2083px;font-size:33px;transform:scaleX(0.8402)">(10.6)</span> <span style="left:1046.40px;top:2083px;font-size:33px;transform:scaleX(0.8657)">.4401</span><sup style="left:1118.17px;top:2081px;font-size:22px;transform:scaleX(0.7777)">a</sup> </div><div><span style="left:13.20px;top:2158px;font-size:33px;transform:scaleX(0.8030)">SF-36</span> <span style="left:91.98px;top:2158px;font-size:33px;transform:scaleX(0.7908)">V</span> <span style="left:116.00px;top:2158px;font-size:33px;transform:scaleX(0.7985)">MCS</span> <span style="left:181.18px;top:2158px;font-size:33px;transform:scaleX(0.8741)">(missing,</span> <span style="left:303.20px;top:2158px;font-size:33px;transform:scaleX(0.9432)">n</span> <span style="left:324.42px;top:2158px;font-size:33px;transform:scaleX(0.9644)">=</span> <span style="left:346.92px;top:2158px;font-size:33px;transform:scaleX(0.8133)">4),</span> <span style="left:46.60px;top:2196px;font-size:33px;transform:scaleX(0.8964)">mean</span> <span style="left:127.22px;top:2196px;font-size:33px;transform:scaleX(0.7944)">(SD)</span> <span style="left:515.10px;top:2158px;font-size:33px;transform:scaleX(0.8609)">39.7</span> <span style="left:576.28px;top:2158px;font-size:33px;transform:scaleX(0.8402)">(10.6)</span> <span style="left:690.00px;top:2158px;font-size:33px;transform:scaleX(0.8609)">39.2</span> <span style="left:751.13px;top:2158px;font-size:33px;transform:scaleX(0.8660)">(11.8)</span> <span style="left:869.30px;top:2158px;font-size:33px;transform:scaleX(0.8609)">39.5</span> <span style="left:930.43px;top:2158px;font-size:33px;transform:scaleX(0.8660)">(11.2)</span> <span style="left:1046.40px;top:2158px;font-size:33px;transform:scaleX(0.8657)">.6913</span><sup style="left:1118.17px;top:2156px;font-size:22px;transform:scaleX(0.7777)">a</sup> </div><div><sup style="left:13.06px;top:2242px;font-size:22px;transform:scaleX(0.7954)">a</sup><i style="left:24.57px;top:2247px;font-size:30px;transform:scaleX(1.0472)">t</i> <span style="left:38.96px;top:2247px;font-size:30px;transform:scaleX(0.9442)">Test.</span> </div><div><sup style="left:13.31px;top:2277px;font-size:22px;transform:scaleX(1.0496)">b</sup><span style="left:27.92px;top:2282px;font-size:30px;transform:scaleX(0.9226)">Fisher</span> <span style="left:111.35px;top:2282px;font-size:30px;transform:scaleX(0.9581)">test.</span> </div><div><sup style="left:12.99px;top:2313px;font-size:22px;transform:scaleX(0.8645)">c</sup><span style="left:25.63px;top:2317px;font-size:30px;transform:scaleX(0.8895)">Based</span> <span style="left:107.77px;top:2317px;font-size:30px;transform:scaleX(1.0073)">on</span> <span style="left:147.84px;top:2317px;font-size:30px;transform:scaleX(1.0136)">lifetime</span> <i style="left:253.39px;top:2317px;font-size:30px;transform:scaleX(0.8778)">DSM-IV</i> <span style="left:356.60px;top:2317px;font-size:30px;transform:scaleX(0.9489)">diagnosis.</span> </div><div><span style="left:14.14px;top:2353px;font-size:30px;transform:scaleX(0.9930)">Abbreviations:</span> <span style="left:208.53px;top:2353px;font-size:30px;transform:scaleX(0.8350)">CAPS</span> <span style="left:281.09px;top:2353px;font-size:30px;transform:scaleX(1.0969)">=</span> <span style="left:303.19px;top:2353px;font-size:30px;transform:scaleX(0.9936)">Clinician-Administered</span> <span style="left:606.21px;top:2353px;font-size:30px;transform:scaleX(0.8881)">PTSD</span> <span style="left:685.53px;top:2353px;font-size:30px;transform:scaleX(0.8609)">Scale;</span> <span style="left:761.95px;top:2353px;font-size:30px;transform:scaleX(0.8848)">CGI</span> <span style="left:811.31px;top:2353px;font-size:30px;transform:scaleX(1.1517)">=</span> <span style="left:833.50px;top:2353px;font-size:30px;transform:scaleX(0.9820)">Clinical</span> <span style="left:933.88px;top:2353px;font-size:30px;transform:scaleX(1.0048)">Global</span> </div><div><span style="left:35.68px;top:2388px;font-size:30px;transform:scaleX(0.9818)">Impressions;</span> <span style="left:207.73px;top:2388px;font-size:30px;transform:scaleX(0.8400)">HARS</span> <span style="left:282.39px;top:2388px;font-size:30px;transform:scaleX(1.0969)">=</span> <span style="left:304.26px;top:2388px;font-size:30px;transform:scaleX(1.0336)">Hamilton</span> <span style="left:434.14px;top:2388px;font-size:30px;transform:scaleX(0.9806)">Anxity</span> <span style="left:521.38px;top:2388px;font-size:30px;transform:scaleX(0.9851)">Rating</span> <span style="left:613.54px;top:2388px;font-size:30px;transform:scaleX(0.9277)">Scale;</span> <span style="left:695.10px;top:2388px;font-size:30px;transform:scaleX(0.8937)">MADRS</span> <span style="left:794.98px;top:2388px;font-size:30px;transform:scaleX(1.1723)">=</span> <span style="left:817.44px;top:2388px;font-size:30px;transform:scaleX(1.0392)">Montgomery-</span> </div><div><span style="left:39.04px;top:2423px;font-size:30px;transform:scaleX(0.9627)">Asberg</span> <span style="left:135.60px;top:2423px;font-size:30px;transform:scaleX(0.9746)">Depression</span> <span style="left:289.14px;top:2423px;font-size:30px">Rating</span> <span style="left:380.74px;top:2423px;font-size:30px;transform:scaleX(0.9277)">Scale;</span> <span style="left:460.58px;top:2423px;font-size:30px;transform:scaleX(0.8626)">PANSS</span> <span style="left:549.99px;top:2423px;font-size:30px;transform:scaleX(1.0969)">=</span> <span style="left:571.24px;top:2423px;font-size:30px;transform:scaleX(0.9590)">Positive</span> <span style="left:679.32px;top:2423px;font-size:30px;transform:scaleX(1.0031)">and</span> <span style="left:735.96px;top:2423px;font-size:30px;transform:scaleX(0.9912)">Negative</span> <span style="left:860.48px;top:2423px;font-size:30px;transform:scaleX(0.9684)">Syndrome</span> <span style="left:1000.25px;top:2423px;font-size:30px;transform:scaleX(0.9189)">Scale;</span> </div><div><span style="left:36.24px;top:2459px;font-size:30px;transform:scaleX(0.8770)">PSQI</span> <span style="left:101.38px;top:2459px;font-size:30px;transform:scaleX(1.1723)">=</span> <span style="left:124.50px;top:2459px;font-size:30px;transform:scaleX(1.0148)">Pittsburgh</span> <span style="left:267.75px;top:2459px;font-size:30px;transform:scaleX(0.9175)">Sleep</span> <span style="left:346.16px;top:2459px;font-size:30px;transform:scaleX(1.0120)">Quality</span> <span style="left:446.70px;top:2459px;font-size:30px;transform:scaleX(1.0122)">Index;</span> <span style="left:532.65px;top:2459px;font-size:30px;transform:scaleX(0.8736)">PTSD</span> <span style="left:605.69px;top:2459px;font-size:30px;transform:scaleX(1.1654)">=</span> <span style="left:627.85px;top:2459px;font-size:30px;transform:scaleX(1.0070)">posttraumatic</span> <span style="left:816.53px;top:2459px;font-size:30px;transform:scaleX(0.9245)">stress</span> <span style="left:897.13px;top:2459px;font-size:30px;transform:scaleX(1.0056)">disorder;</span> <span style="left:1018.79px;top:2459px;font-size:30px;transform:scaleX(0.8858)">SF-36</span> </div><div><span style="left:38.28px;top:2494px;font-size:30px;transform:scaleX(0.9366)">V</span> <span style="left:61.85px;top:2494px;font-size:30px;transform:scaleX(0.8753)">MCS</span> <span style="left:123.79px;top:2494px;font-size:30px;transform:scaleX(1.1654)">=</span> <span style="left:147.48px;top:2494px;font-size:30px;transform:scaleX(0.9462)">Veterans</span> <span style="left:265.21px;top:2494px;font-size:30px;transform:scaleX(0.8900)">RAND</span> <span style="left:349.84px;top:2494px;font-size:30px;transform:scaleX(1.0162)">36-item</span> <span style="left:456.53px;top:2494px;font-size:30px;transform:scaleX(1.0035)">Health</span> <span style="left:550.99px;top:2494px;font-size:30px;transform:scaleX(0.9609)">Survey,</span> <span style="left:650.84px;top:2494px;font-size:30px;transform:scaleX(1.0355)">mental</span> <span style="left:749.20px;top:2494px;font-size:30px;transform:scaleX(1.0174)">component</span> <span style="left:909.01px;top:2494px;font-size:30px;transform:scaleX(0.9415)">score;</span> <span style="left:990.37px;top:2494px;font-size:30px;transform:scaleX(0.8997)">SF-36</span> <span style="left:1067.18px;top:2494px;font-size:30px;transform:scaleX(0.8961)">V</span> </div><div><span style="left:36.36px;top:2529px;font-size:30px;transform:scaleX(0.8297)">PCS</span> <span style="left:89.91px;top:2529px;font-size:30px;transform:scaleX(1.2203)">=</span> <span style="left:115.48px;top:2529px;font-size:30px;transform:scaleX(0.9402)">Veterans</span> <span style="left:232.49px;top:2529px;font-size:30px;transform:scaleX(0.8987)">RAND</span> <span style="left:317.85px;top:2529px;font-size:30px;transform:scaleX(1.0049)">36-item</span> <span style="left:423.93px;top:2529px;font-size:30px;transform:scaleX(1.0023)">Health</span> <span style="left:518.29px;top:2529px;font-size:30px;transform:scaleX(0.9609)">Survey,</span> <span style="left:618.99px;top:2529px;font-size:30px;transform:scaleX(0.9880)">physical</span> <span style="left:730.70px;top:2529px;font-size:30px;transform:scaleX(1.0235)">component</span> <span style="left:891.22px;top:2529px;font-size:30px;transform:scaleX(0.9325)">score;</span> <span style="left:971.19px;top:2529px;font-size:30px;transform:scaleX(0.8695)">VA</span> <span style="left:1008.28px;top:2529px;font-size:30px;transform:scaleX(1.1723)">=</span> <span style="left:1030.98px;top:2529px;font-size:30px;transform:scaleX(0.8738)">US</span> </div><div><span style="left:38.01px;top:2565px;font-size:30px;transform:scaleX(1.0115)">Department</span> <span style="left:203.16px;top:2565px;font-size:30px;transform:scaleX(1.0451)">of</span> <span style="left:235.92px;top:2565px;font-size:30px;transform:scaleX(0.9591)">Veterans</span> <span style="left:357.44px;top:2565px;font-size:30px;transform:scaleX(0.9705)">Affairs;</span> <span style="left:451.18px;top:2565px;font-size:30px;transform:scaleX(0.9280)">WWI</span> <span style="left:513.18px;top:2565px;font-size:30px;transform:scaleX(1.1723)">=</span> <span style="left:538.28px;top:2565px;font-size:30px;transform:scaleX(0.8779)">World</span> <span style="left:614.68px;top:2565px;font-size:30px;transform:scaleX(0.8966)">War I;</span> <span style="left:698.88px;top:2565px;font-size:30px;transform:scaleX(0.9373)">WWII</span> <span style="left:768.72px;top:2565px;font-size:30px;transform:scaleX(1.1449)">=</span> <span style="left:792.88px;top:2565px;font-size:30px;transform:scaleX(0.8845)">World</span> <span style="left:869.87px;top:2565px;font-size:30px;transform:scaleX(0.9864)">War II.</span> </div></div></body></html>
